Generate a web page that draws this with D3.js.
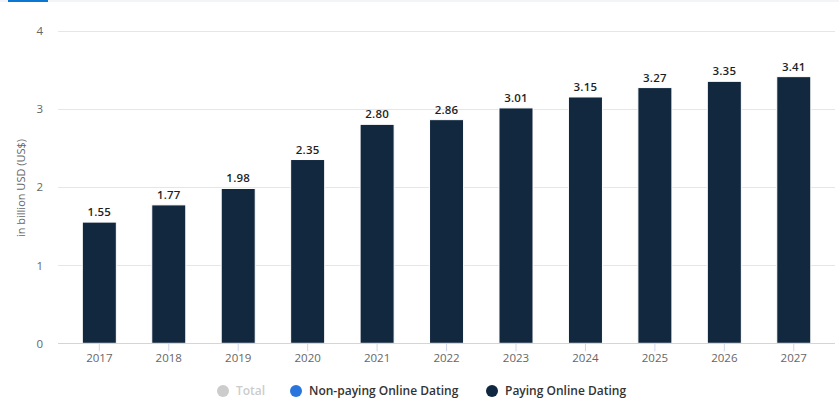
<!DOCTYPE html>
<html><head><meta charset="utf-8">
<script src="https://cdn.jsdelivr.net/npm/d3@7/dist/d3.min.js"></script>
<style>
html,body{margin:0;padding:0;background:#fff;}
svg{display:block;font-family:"Open Sans",sans-serif;}
</style></head><body>
<svg id="c" width="839" height="413"></svg>
<script>
const years = ["2017","2018","2019","2020","2021","2022","2023","2024","2025","2026","2027"];
const payingValues = [1.55,1.77,1.98,2.35,2.80,2.86,3.01,3.15,3.27,3.35,3.41];
const yTicks = [0,1,2,3,4];
const legendItems = ["Total","Non-paying Online Dating","Paying Online Dating"];
const legendColors = ["#cccccc","#2876dd","#0f2741"];
const axisTitle = "in billion USD (US$)";

const svg = d3.select("#c");
const W = 839, H = 413;
const plotLeft = 58, plotRight = 835, plotTop = 30.5, plotBottom = 343.3;

// top strip
svg.append("rect").attr("x",0).attr("y",0).attr("width",W).attr("height",2).attr("fill","#f2f4f7");
svg.append("rect").attr("x",8).attr("y",0).attr("width",40).attr("height",2).attr("fill","#0a77d5");

const y = d3.scaleLinear().domain([0,4]).range([plotBottom, plotTop]);
const x = d3.scaleBand().domain(years).range([64.6, 828.5]).padding(0);

// gridlines
svg.append("g").selectAll("line").data(yTicks.filter(d=>d>0)).join("line")
  .attr("x1",plotLeft).attr("x2",plotRight)
  .attr("y1",d=>Math.round(y(d))+0.5).attr("y2",d=>Math.round(y(d))+0.5)
  .attr("stroke","#e6e6e6").attr("stroke-width",1);

// y axis labels
const yAxis = d3.axisLeft(y).tickValues(yTicks).tickSize(0).tickPadding(0).tickFormat(d3.format("d"));
const gy = svg.append("g").attr("transform",`translate(${plotLeft-15},0)`).call(yAxis);
gy.select(".domain").remove();
gy.selectAll("text").attr("fill","#666666").style("font-size","11.5px").style("font-family","Open Sans").attr("dy","0.35em");

// axis title
svg.append("text").attr("transform",`translate(21,188) rotate(-90)`)
  .attr("text-anchor","middle").attr("dy","0.35em")
  .attr("fill","#666666").style("font-size","11px").text(axisTitle);

// bars
const bw = x.bandwidth()*0.49;
svg.append("g").selectAll("rect").data(payingValues).join("rect")
  .attr("x",(d,i)=>x(years[i]) + x.bandwidth()/2 - bw/2)
  .attr("y",d=>y(d))
  .attr("width",bw)
  .attr("height",d=>plotBottom - y(d))
  .attr("fill","#12283f").attr("stroke","#ffffff").attr("stroke-width",1);

// value labels
svg.append("g").selectAll("text").data(payingValues).join("text")
  .attr("x",(d,i)=>x(years[i]) + x.bandwidth()/2)
  .attr("y",d=>y(d)-6)
  .attr("text-anchor","middle")
  .attr("fill","#1f1f1f").style("font-size","11.5px").style("font-weight","600")
  .style("letter-spacing","0.2px")
  .text(d=>d.toFixed(2));

// x axis
const xAxis = d3.axisBottom(x).tickSize(8).tickPadding(3);
const gx = svg.append("g").attr("transform",`translate(0,${plotBottom})`).call(xAxis);
gx.select(".domain").remove();
gx.selectAll(".tick line").attr("stroke","#ccd6eb");
gx.selectAll("text").attr("fill","#666666").style("font-size","11.5px").style("font-family","Open Sans");
svg.append("line").attr("x1",plotLeft).attr("x2",plotRight)
  .attr("y1",Math.round(plotBottom)+0.5).attr("y2",Math.round(plotBottom)+0.5).attr("stroke","#ccd6eb");

// legend
const legendX = [223, 296, 492];
const lg = svg.append("g").selectAll("g").data(legendItems).join("g")
  .attr("transform",(d,i)=>`translate(${legendX[i]},391)`);
lg.append("circle").attr("r",6).attr("fill",(d,i)=>legendColors[i]);
lg.append("text").attr("x",13).attr("dy","0.35em")
  .attr("fill",(d,i)=>i===0?"#cccccc":"#333333")
  .style("font-size","12px").style("font-weight","600").text(d=>d);
</script>
</body></html>
